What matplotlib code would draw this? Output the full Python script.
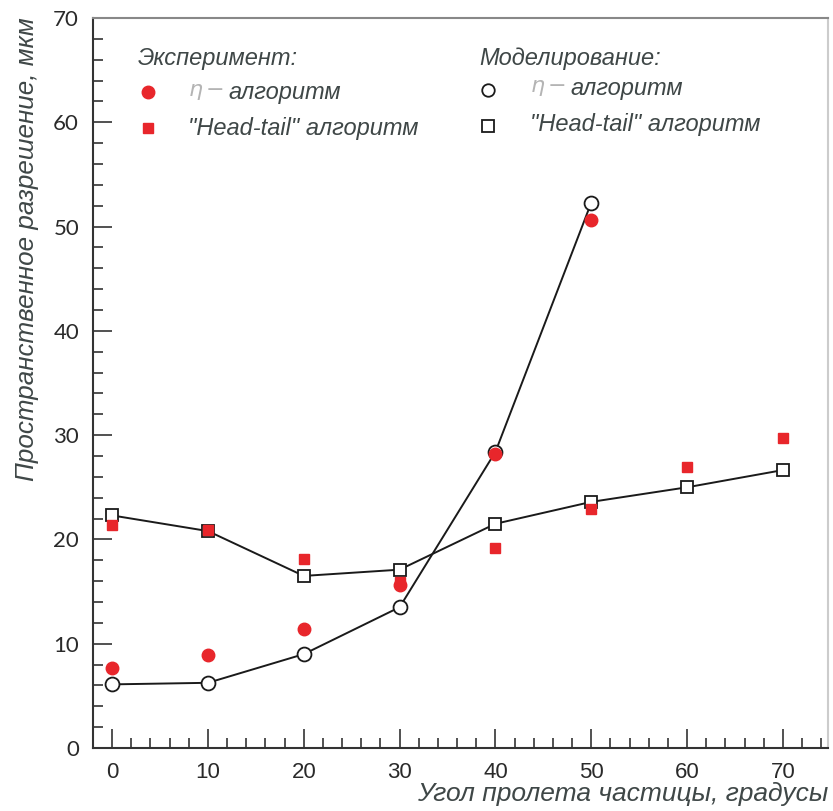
import numpy as np
import matplotlib
matplotlib.use("Agg")
import matplotlib.pyplot as plt
from matplotlib.ticker import MultipleLocator

# angle of the particle track, degrees
angle_sim_eta = [0, 10, 20, 30, 40, 50]
res_sim_eta = [6.1, 6.25, 9.0, 13.5, 28.4, 52.3]

angle_sim_ht = [0, 10, 20, 30, 40, 50, 60, 70]
res_sim_ht = [22.3, 20.8, 16.5, 17.1, 21.5, 23.6, 25.0, 26.65]

angle_exp_eta = [0, 10, 20, 30, 40, 50]
res_exp_eta = [7.7, 8.9, 11.4, 15.6, 28.2, 50.6]

angle_exp_ht = [0, 10, 20, 30, 40, 50, 60, 70]
res_exp_ht = [21.4, 20.9, 18.1, 15.9, 19.2, 22.9, 26.9, 29.7]

xticks = [0, 10, 20, 30, 40, 50, 60, 70]
yticks = [0, 10, 20, 30, 40, 50, 60, 70]

red = "#e8262b"
txt = "#3f4747"
light = "#b4b4b4"

fig = plt.figure(figsize=(8.33, 8.11), dpi=100)
ax = fig.add_axes([0.1116, 0.0777, 0.8824, 0.9001])

# simulation: lines with open markers
ax.plot(angle_sim_eta, res_sim_eta, color="#1a1a1a", lw=1.4, marker="o", ms=10,
        mfc="white", mec="#1a1a1a", mew=1.3, zorder=2)
ax.plot(angle_sim_ht, res_sim_ht, color="#1a1a1a", lw=1.4, marker="s", ms=9,
        mfc="white", mec="#1a1a1a", mew=1.3, zorder=2)
# experiment: red markers on top
ax.plot(angle_exp_eta, res_exp_eta, ls="none", marker="o", ms=9, color=red,
        mec=red, zorder=3)
ax.plot(angle_exp_ht, res_exp_ht, ls="none", marker="s", ms=7.5, color=red,
        mec=red, zorder=3)

ax.set_xlim(-2, 74.7)
ax.set_ylim(0, 70)
ax.set_xticks(xticks)
ax.set_yticks(yticks)
ax.xaxis.set_minor_locator(MultipleLocator(2))
ax.yaxis.set_minor_locator(MultipleLocator(2))
ax.tick_params(which="both", direction="in", color="#333333", width=1.2,
               top=False, right=False)
ax.tick_params(which="major", length=14)
ax.tick_params(which="minor", length=7)
ax.tick_params(axis="y", labelsize=16, labelcolor="#2a2a2a", pad=10)
ax.tick_params(axis="x", labelsize=16, labelcolor="#2a2a2a", pad=10)
for lab in ax.get_yticklabels():
    lab.set_family(["Lato", "DejaVu Sans"])
for lab in ax.get_xticklabels():
    lab.set_family(["Liberation Sans", "DejaVu Sans"])

ax.spines["left"].set_color("#333333")
ax.spines["bottom"].set_color("#333333")
ax.spines["top"].set_color("#888888")
ax.spines["right"].set_color("#cccccc")
for s in ax.spines.values():
    s.set_linewidth(1.5)

fig.text(0.994, 0.006, "Угол пролета частицы, градусы", ha="right", va="bottom",
         fontsize=19, style="italic", color=txt,
         family=["Liberation Sans", "DejaVu Sans"])
fig.text(0.032, 0.979, "Пространственное разрешение, мкм", ha="center", va="top",
         rotation=90, fontsize=18.7, style="italic", color=txt,
         family=["Liberation Sans", "DejaVu Sans"])

# hand-made legend block
lt = dict(fontsize=17, style="italic", color=txt, va="center",
          family=["Liberation Sans", "DejaVu Sans"], transform=fig.transFigure)


def fx(px):
    return px / 833.0


def fy(py):
    return 1 - py / 811.0


fig.text(fx(138), fy(58), "Эксперимент:", **lt)
fig.text(fx(479), fy(58), "Моделирование:", **lt)
fig.text(fx(188), fy(92), r"$\eta\,$−", fontsize=16, color=light, va="center",
         transform=fig.transFigure)
fig.text(fx(228), fy(92), "алгоритм", **lt)
fig.text(fx(188), fy(128), '"Head-tail" алгоритм', **lt)
fig.text(fx(530), fy(88), r"$\eta\,$−", fontsize=16, color=light, va="center",
         transform=fig.transFigure)
fig.text(fx(570), fy(88), "алгоритм", **lt)
fig.text(fx(530), fy(124), '"Head-tail" алгоритм', **lt)

fig.lines.append(plt.Line2D([fx(148)], [fy(92)], marker="o", ms=9, color=red,
                            ls="none", transform=fig.transFigure))
fig.lines.append(plt.Line2D([fx(148)], [fy(128)], marker="s", ms=7.5, color=red,
                            ls="none", transform=fig.transFigure))
fig.lines.append(plt.Line2D([fx(488)], [fy(90)], marker="o", ms=9, mfc="white",
                            mec="#1a1a1a", mew=1.3, ls="none",
                            transform=fig.transFigure))
fig.lines.append(plt.Line2D([fx(488)], [fy(126)], marker="s", ms=8, mfc="white",
                            mec="#1a1a1a", mew=1.3, ls="none",
                            transform=fig.transFigure))

fig.savefig("out.png", dpi=100)
